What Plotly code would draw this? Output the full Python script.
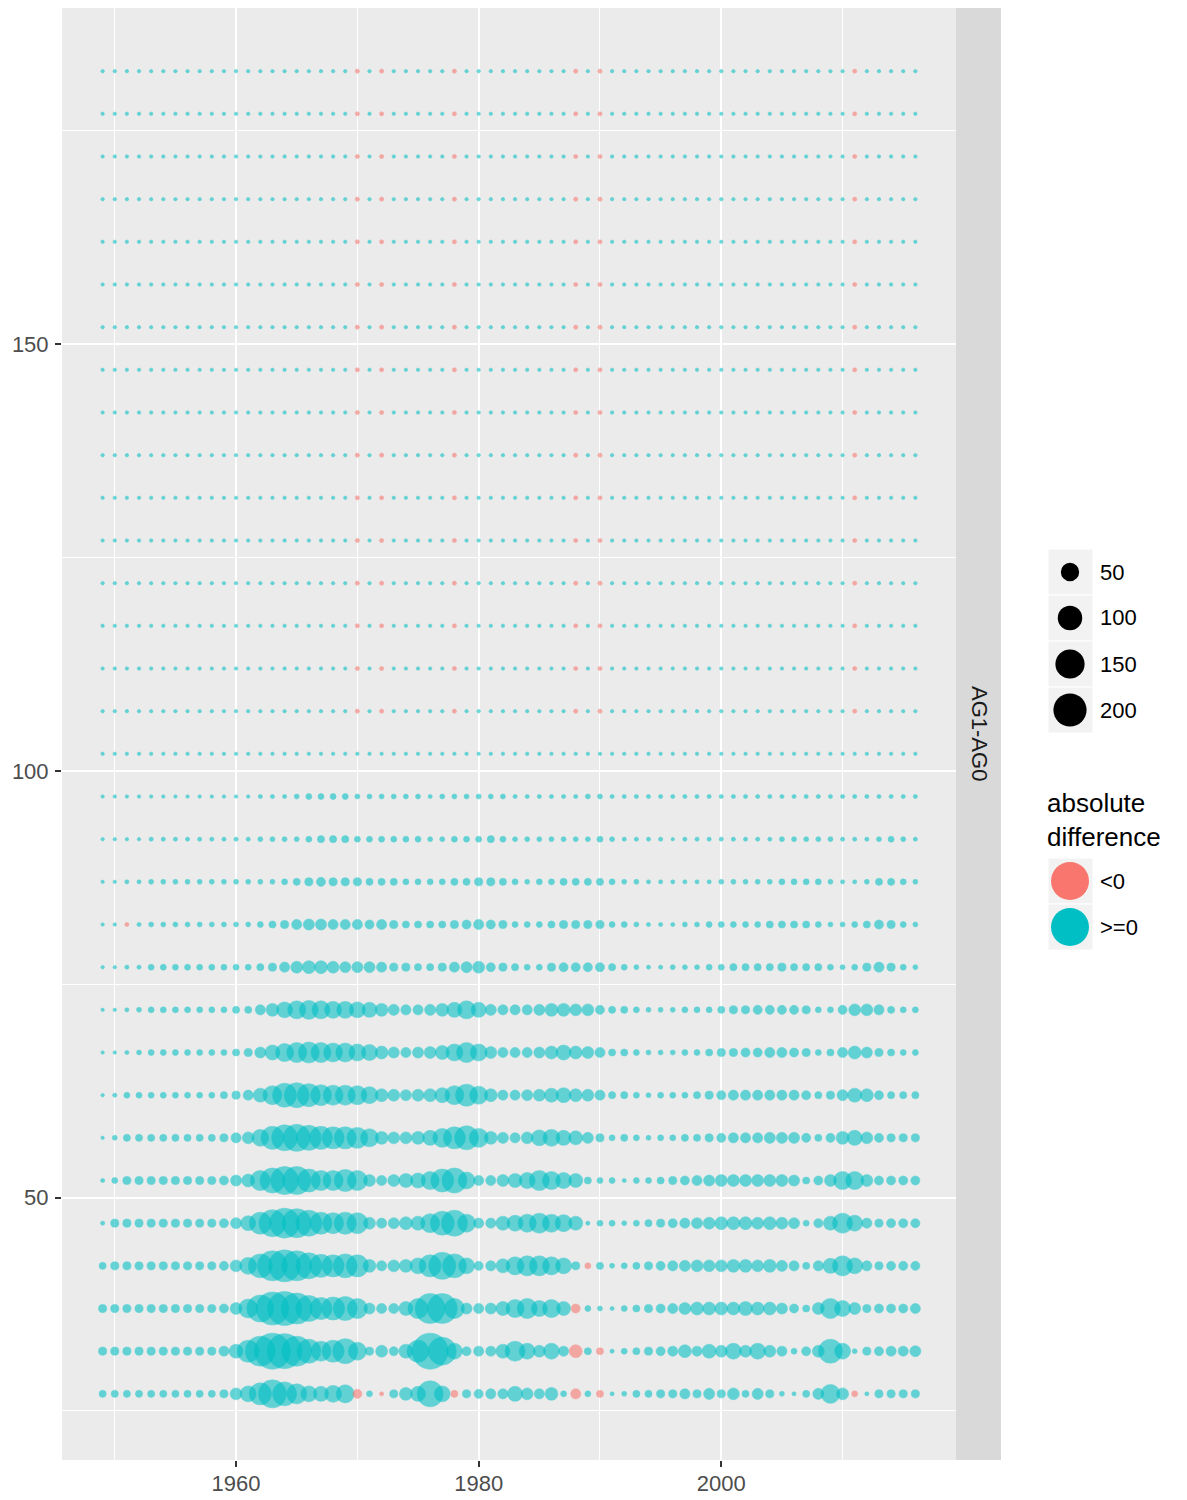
import math
import plotly.graph_objects as go

# ---------------- data ----------------
years = list(range(1949, 2017))  # 68 years

row_levels = [27, 32, 37, 42, 47, 52, 57, 62, 67, 72, 77, 82, 87, 92, 97, 102,
              107, 112, 117, 122, 127, 132, 137, 142, 147, 152, 157, 162, 167, 172, 177, 182]

row_027 = [3, 3, 3, 3, 3, 3, 3, 3, 3, 3,
           5, 16, 35, 78, 136, 95, 62, 35, 30, 41,
           48, -7, 1.4, -0.1, 5, 20, 30, 115, 35, -3,
           5, 7, 10, 10, 30, 16, 10, 20, 1.4, -10,
           1.4, -3, 0.1, 0.5, 3, 3, 5, 5, 10, 5,
           13, 5, 16, 3, 13, 5, 0.5, 0.1, 3, 13,
           54, 16, -1.4, 0.1, 5, 5, 5, 5]
row_032 = [5, 5, 5, 5, 5, 5, 5, 5, 5, 5,
           10, 25, 78, 159, 240, 225, 159, 95, 62, 78,
           105, 48, 5, 16, 7, 25, 78, 240, 136, 35,
           7, 10, 10, 25, 62, 35, 16, 35, 10, -20,
           3, -3, 0.1, 1.4, 3, 5, 7, 10, 20, 10,
           25, 16, 35, 16, 35, 16, 10, 1.4, 7, 16,
           95, 35, 0.5, 5, 7, 10, 10, 13]
row_037 = [5, 5, 5, 5, 5, 5, 5, 5, 5, 5,
           7, 16, 54, 125, 197, 211, 172, 115, 78, 86,
           95, 62, 13, 10, 10, 25, 62, 159, 159, 62,
           13, 10, 13, 25, 48, 62, 35, 48, 25, -7,
           1.4, 0.5, 0.1, 1.4, 3, 5, 7, 10, 16, 20,
           20, 20, 20, 25, 20, 20, 13, 7, 3, 16,
           62, 35, 16, 5, 7, 7, 7, 10]
row_042 = [3, 5, 5, 5, 5, 5, 5, 5, 5, 5,
           7, 16, 41, 95, 159, 184, 159, 115, 86, 78,
           95, 78, 20, 10, 16, 20, 35, 78, 125, 95,
           35, 7, 10, 25, 48, 62, 62, 48, 35, 5,
           -1.4, 3, 0.5, 1.4, 3, 5, 7, 10, 13, 16,
           16, 16, 20, 20, 16, 20, 13, 10, 3, 10,
           30, 62, 35, 10, 5, 7, 7, 7]
row_047 = [0.1, 5, 5, 5, 5, 5, 5, 5, 5, 5,
           7, 13, 30, 78, 125, 159, 147, 115, 78, 69,
           78, 69, 16, 10, 13, 20, 25, 54, 95, 115,
           48, 10, 10, 25, 35, 48, 62, 48, 41, 25,
           0.1, 1.4, 1.4, 0.5, 1.4, 3, 5, 7, 10, 13,
           16, 20, 20, 20, 16, 20, 16, 13, 1.4, 7,
           25, 62, 35, 10, 5, 7, 7, 7]
row_052 = [0.1, 1.4, 5, 5, 5, 5, 5, 5, 5, 5,
           7, 13, 20, 62, 105, 136, 136, 86, 62, 62,
           78, 62, 16, 10, 16, 25, 30, 48, 86, 105,
           41, 10, 10, 16, 25, 35, 62, 48, 35, 25,
           3, 1.4, 1.4, 0.1, 1.4, 1.4, 3, 5, 7, 10,
           13, 16, 16, 16, 16, 16, 16, 13, 3, 7,
           16, 48, 48, 16, 7, 7, 7, 7]
row_057 = [0, 0.5, 3, 3, 3, 3, 3, 3, 3, 3,
           5, 10, 16, 41, 86, 115, 125, 105, 86, 78,
           78, 69, 48, 20, 16, 16, 20, 30, 54, 78,
           95, 54, 20, 13, 10, 16, 35, 41, 30, 25,
           13, 5, 1.4, 3, 1.4, 0.5, 1.4, 1.4, 3, 3,
           5, 7, 10, 10, 10, 13, 13, 13, 7, 3,
           7, 20, 30, 16, 7, 5, 5, 5]
row_062 = [0, 0.1, 1.4, 1.4, 1.4, 1.4, 1.4, 1.4, 1.4, 1.4,
           3, 5, 10, 25, 54, 95, 105, 86, 69, 62,
           62, 54, 41, 20, 16, 13, 16, 20, 30, 54,
           78, 48, 20, 10, 10, 13, 16, 25, 30, 20,
           16, 10, 3, 3, 1.4, 0.5, 1.4, 1.4, 1.4, 3,
           5, 7, 10, 10, 10, 10, 10, 10, 7, 3,
           5, 13, 25, 20, 7, 3, 3, 3]
row_067 = [0, 0, 0.1, 0.5, 1.4, 1.4, 1.4, 1.4, 1.4, 1.4,
           1.4, 3, 5, 13, 30, 48, 62, 69, 62, 54,
           54, 41, 35, 20, 13, 10, 13, 16, 25, 41,
           62, 41, 16, 10, 10, 10, 13, 20, 30, 20,
           16, 10, 3, 3, 1.4, 0.5, 0.5, 0.5, 1.4, 1.4,
           3, 5, 5, 7, 7, 10, 10, 7, 5, 1.4,
           3, 10, 20, 13, 5, 3, 1.4, 1.4]
row_072 = [0, 0, 0.1, 0.5, 1.4, 1.4, 1.4, 1.4, 1.4, 1.4,
           1.4, 3, 3, 10, 20, 35, 48, 54, 48, 41,
           41, 35, 30, 20, 13, 10, 10, 13, 20, 30,
           48, 30, 13, 10, 10, 10, 13, 20, 20, 16,
           16, 7, 3, 3, 1.4, 0.5, 0.5, 0.5, 1.4, 1.4,
           1.4, 3, 5, 5, 7, 7, 7, 7, 5, 1.4,
           1.4, 7, 16, 16, 10, 3, 1.4, 1.4]
row_077 = [0, 0, 0.1, 0.1, 1.4, 1.4, 1.4, 1.4, 1.4, 1.4,
           1.4, 1.4, 1.4, 3, 5, 10, 16, 20, 20, 16,
           13, 13, 13, 10, 5, 5, 3, 3, 5, 10,
           13, 16, 7, 5, 3, 1.4, 1.4, 5, 7, 7,
           7, 7, 3, 1.4, 0.5, 0.1, 0.1, 0.5, 0.5, 0.5,
           1.4, 1.4, 3, 3, 3, 3, 5, 3, 3, 3,
           1.4, 0.5, 1.4, 5, 10, 5, 1.4, 0.5]
row_082 = [0, 0, -0.1, 0.1, 0.5, 0.5, 0.5, 0.5, 0.5, 0.5,
           0.5, 0.5, 0.5, 1.4, 3, 5, 10, 13, 13, 10,
           10, 10, 7, 10, 5, 3, 3, 3, 3, 5,
           7, 10, 7, 5, 1.4, 1.4, 1.4, 3, 5, 5,
           5, 5, 1.4, 1.4, 0.5, 0.1, 0.1, 0.1, 0.5, 0.5,
           1.4, 1.4, 1.4, 1.4, 1.4, 3, 3, 3, 3, 1.4,
           0.5, 0.5, 1.4, 3, 7, 5, 1.4, 0.5]
row_087 = [0, 0, 0.1, 0.1, 0.5, 0.5, 0.5, 0.5, 0.5, 0.5,
           0.5, 0.5, 0.5, 0.5, 0.5, 1.4, 3, 5, 7, 5,
           5, 5, 3, 3, 3, 1.4, 1.4, 1.4, 1.4, 3,
           3, 5, 5, 3, 1.4, 0.5, 1.4, 1.4, 3, 3,
           3, 3, 1.4, 0.5, 0.5, 0.1, 0.1, 0.1, 0.1, 0.1,
           0.1, 0.5, 0.5, 0.5, 0.5, 0.5, 1.4, 1.4, 1.4, 1.4,
           0.5, 0.1, 0.1, 0.5, 3, 3, 1.4, 0.5]
row_092 = [0, 0, 0, 0, 0.1, 0.1, 0.1, 0.1, 0.1, 0.1,
           0.1, 0.1, 0.1, 0.5, 0.5, 0.5, 0.5, 1.4, 3, 3,
           3, 1.4, 1.4, 1.4, 1.4, 1.4, 1.4, 0.5, 0.5, 1.4,
           1.4, 1.4, 3, 1.4, 0.5, 0.5, 0.5, 0.5, 0.5, 0.5,
           0.5, 1.4, 0.5, 0.1, 0.1, 0.1, 0.1, 0, 0.1, 0.1,
           0.1, 0.1, 0.1, 0.1, 0.1, 0.1, 0.5, 0.5, 0.5, 0.5,
           0.5, 0.1, 0.1, 0.1, 0.5, 1.4, 0.5, 0.1]
row_097 = [0, 0, 0, 0, 0, 0, 0, 0, 0, 0,
           0, 0, 0, 0.1, 0.1, 0.1, 0.5, 1.4, 1.4, 1.4,
           1.4, 0.5, 0.5, 0.5, 0.5, 0.5, 0.5, 0.1, 0.5, 0.5,
           0.5, 0.5, 0.5, 0.5, 0.1, 0.1, 0.1, 0.1, 0.1, 0.1,
           0.5, 0.5, 0.1, 0.1, 0.1, 0.1, 0.1, 0.1, 0.1, 0.1,
           0.1, 0.1, 0.1, 0.1, 0.1, 0.1, 0.1, 0.1, 0.1, 0.1,
           0.1, 0.1, 0.1, 0.1, 0.1, 0.1, 0.1, 0.1]
row_102 = [0, 0, 0, 0, 0, 0, 0, 0, 0, 0,
           0, 0, 0, 0, 0, 0, 0, 0, 0, 0,
           0, 0, 0, 0, 0, 0, 0, 0, 0, 0,
           0, 0, 0, 0, 0, 0, 0, 0, 0, 0,
           0, 0, 0, 0, 0, 0, 0, 0, 0, 0,
           0, 0, 0, 0, 0, 0, 0, 0, 0, 0,
           0, 0, 0, 0, 0, 0, 0, 0]
# rows 107 ... 182 all read the same: tiny values, small negatives in 1970, 1972, 1978, 1988, 1990, 2011
row_107_to_182 = [0, 0, 0, 0, 0, 0, 0, 0, 0, 0,
                  0, 0, 0, 0, 0, 0, 0, 0, 0, 0,
                  0, -0.1, 0, -0.1, 0, 0, 0, 0, 0, -0.1,
                  0, 0, 0, 0, 0, 0, 0, 0, 0, -0.1,
                  0, -0.1, 0, 0, 0, 0, 0, 0, 0, 0,
                  0, 0, 0, 0, 0, 0, 0, 0, 0, 0,
                  0, 0, -0.1, 0, 0, 0, 0, 0]

lower_rows = [row_027, row_032, row_037, row_042, row_047, row_052, row_057, row_062,
              row_067, row_072, row_077, row_082, row_087, row_092, row_097, row_102]

size_breaks = [50, 100, 150, 200]
colour_labels = ["<0", ">=0"]
facet_label = "AG1-AG0"

TEAL = "#00BFC4"
RED = "#F8766D"
FONT = "Liberation Sans, Arial, sans-serif"

# page has an 8px body margin: the figure is shrunk by it and layout pixels are page pixels - 8
OFF = 8
W, H = 1187 - OFF, 1500 - OFF


def diam(v):
    # size scale: sqrt mapping of |difference| to marker diameter in px
    return 3.5 + 2.1 * math.sqrt(abs(v))


all_rows = []
for i, lvl in enumerate(row_levels):
    vals = lower_rows[i] if i < len(lower_rows) else row_107_to_182
    all_rows.append((lvl, vals))

px, py, ps, nx, ny, ns = [], [], [], [], [], []
for lvl, vals in all_rows:
    for yr, v in zip(years, vals):
        if v < 0:
            nx.append(yr); ny.append(lvl); ns.append(diam(v))
        else:
            px.append(yr); py.append(lvl); ps.append(diam(v))

fig = go.Figure()
fig.add_trace(go.Scatter(x=px, y=py, mode="markers", hoverinfo="skip", showlegend=False,
                         marker=dict(size=ps, sizemode="diameter", color=TEAL, opacity=0.58,
                                     line=dict(width=0.6, color=TEAL))))
fig.add_trace(go.Scatter(x=nx, y=ny, mode="markers", hoverinfo="skip", showlegend=False,
                         marker=dict(size=ns, sizemode="diameter", color=RED, opacity=0.58,
                                     line=dict(width=0.6, color=RED))))

# plot panel in page pixel coordinates (top clipped to the 8px body margin)
L, R, T, B = 62, 956, 8, 1460


def fx(p):
    return min(1.0, max(0.0, (p - OFF) / W))


def fy(p):
    return min(1.0, max(0.0, 1 - (p - OFF) / H))


axis_common = dict(showline=False, zeroline=False, ticks="outside", ticklen=6, tickwidth=1.8,
                   tickcolor="#333333", tickfont=dict(family=FONT, size=22, color="#4D4D4D"),
                   gridcolor="white", gridwidth=2)

fig.update_layout(
    width=W, height=H, margin=dict(l=0, r=0, t=0, b=0),
    paper_bgcolor="white", plot_bgcolor="#EBEBEB",
    font=dict(family=FONT),
    xaxis=dict(domain=[fx(L), fx(R)], range=[1945.65, 2019.35], tickvals=[1960, 1980, 2000],
               ticklabelstandoff=-2,
               minor=dict(tickvals=[1950, 1970, 1990, 2010], showgrid=True, gridcolor="white",
                          gridwidth=1, ticks=""),
               **axis_common),
    yaxis=dict(domain=[fy(B), fy(T)], range=[19.25, 189.4], tickvals=[50, 100, 150],
               ticklabelstandoff=2,
               minor=dict(tickvals=[25, 75, 125, 175], showgrid=True, gridcolor="white",
                          gridwidth=1, ticks=""),
               **axis_common),
)

shapes = []
annotations = []
# facet strip
shapes.append(dict(type="rect", xref="paper", yref="paper", x0=fx(956), x1=fx(1001),
                   y0=fy(B), y1=fy(T), fillcolor="#D9D9D9", line=dict(width=0), layer="below"))
annotations.append(dict(xref="paper", yref="paper", x=fx(979), y=fy(733), text=facet_label,
                        textangle=90, xanchor="center", yanchor="middle", showarrow=False,
                        font=dict(family=FONT, size=22, color="#1A1A1A")))

# size legend
key_x0, key_x1, key_cx = 1048, 1093, 1070
for k, br in enumerate(size_breaks):
    cy = 572 + 46 * k
    shapes.append(dict(type="rect", xref="paper", yref="paper", x0=fx(key_x0), x1=fx(key_x1),
                       y0=fy(cy + 23), y1=fy(cy - 23), fillcolor="#F2F2F2",
                       line=dict(color="white", width=1)))
    r = diam(br) / 2
    shapes.append(dict(type="circle", xref="paper", yref="paper", xsizemode="pixel", ysizemode="pixel",
                       xanchor=fx(key_cx), yanchor=fy(cy), x0=-r, x1=r, y0=-r, y1=r,
                       fillcolor="black", line=dict(width=0)))
    annotations.append(dict(xref="paper", yref="paper", x=fx(1098), y=fy(cy), xanchor="left",
                            yanchor="middle", text=str(br), showarrow=False,
                            font=dict(family=FONT, size=22, color="black")))

# colour legend
annotations.append(dict(xref="paper", yref="paper", x=fx(1045), y=fy(820), xanchor="left",
                        yanchor="middle", text="absolute<br>difference", showarrow=False, align="left",
                        font=dict(family=FONT, size=26, color="black")))
for k, (lab, col) in enumerate(zip(colour_labels, [RED, TEAL])):
    cy = 881 + 46 * k
    shapes.append(dict(type="rect", xref="paper", yref="paper", x0=fx(key_x0), x1=fx(key_x1),
                       y0=fy(cy + 23), y1=fy(cy - 23), fillcolor="#F2F2F2",
                       line=dict(color="white", width=1)))
    shapes.append(dict(type="circle", xref="paper", yref="paper", xsizemode="pixel", ysizemode="pixel",
                       xanchor=fx(key_cx), yanchor=fy(cy), x0=-19, x1=19, y0=-19, y1=19,
                       fillcolor=col, line=dict(width=0)))
    annotations.append(dict(xref="paper", yref="paper", x=fx(1098), y=fy(cy), xanchor="left",
                            yanchor="middle", text=lab, showarrow=False,
                            font=dict(family=FONT, size=22, color="black")))

fig.update_layout(shapes=shapes, annotations=annotations)
fig.write_html("out.html")
